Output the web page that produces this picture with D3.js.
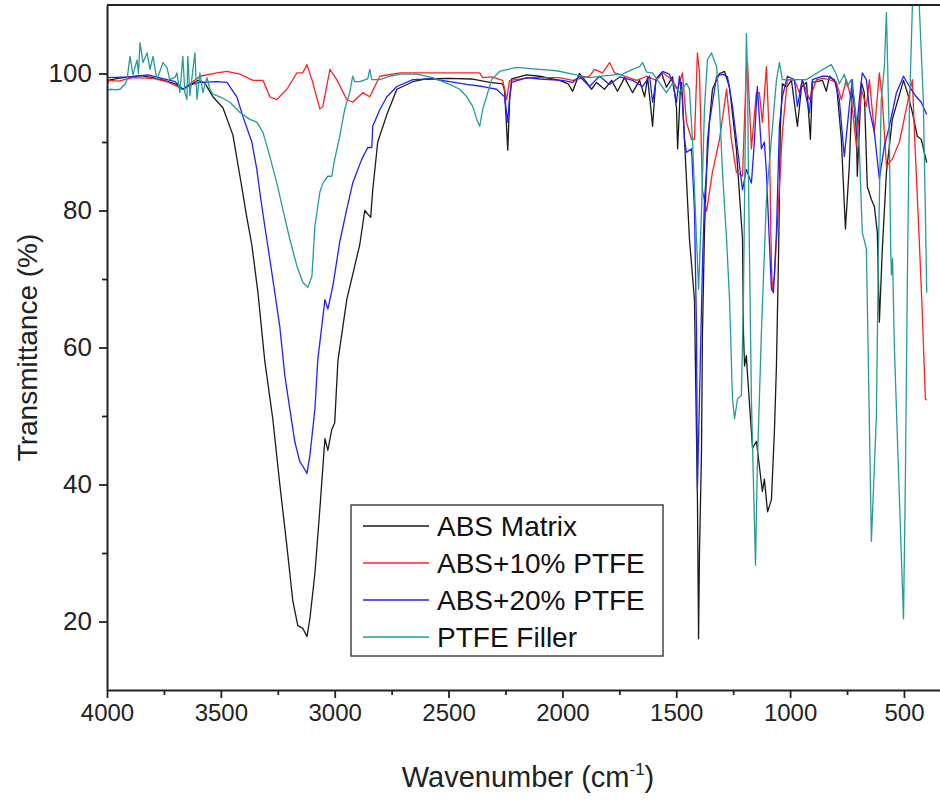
<!DOCTYPE html>
<html>
<head>
<meta charset="utf-8">
<script src="https://cdn.jsdelivr.net/npm/d3@7"></script>
<style>
  body { margin: 0; background: #fff; }
  svg { display: block; font-family: Arial, "Liberation Sans", sans-serif; }
</style>
</head>
<body>
<svg id="chart"></svg>
<script>
// [wavenumber (cm-1), transmittance (%)]
const absMatrix = [[4000,99.0],[3950,99.3],[3900,99.5],[3850,99.7],[3800,99.4],[3750,99.0],[3700,98.5],[3667,97.7],[3640,98.2],[3600,99.0],[3570,98.6],[3535,96.6],[3491,95.0],[3447,91.0],[3416,85.0],[3386,79.0],[3364,75.0],[3337,68.0],[3307,58.0],[3272,49.6],[3241,40.0],[3210,31.0],[3184,23.0],[3162,19.4],[3140,19.0],[3122,17.8],[3109,20.4],[3087,27.0],[3065,36.5],[3043,46.7],[3030,45.0],[3013,48],[3000,49],[2986,58],[2947,67],[2890,75],[2868,80],[2842,79],[2833,83],[2811,90],[2771,94],[2727,97.7],[2657,98.8],[2600,99.2],[2500,99.3],[2400,99.2],[2319,98.7],[2262,98.5],[2254,97.5],[2245,92],[2240,88.8],[2232,96],[2223,99.2],[2157,99.8],[2100,99.6],[2012,99.0],[1975,98.5],[1955,97.4],[1925,100.0],[1894,98.7],[1872,97.7],[1850,98.7],[1815,97.7],[1784,99.0],[1758,97.4],[1727,99.4],[1692,97.2],[1661,99.0],[1639,96.6],[1626,99.4],[1612,95],[1604,92.3],[1590,99],[1565,100.1],[1543,98],[1516,99.5],[1499,95],[1494,89],[1483,97],[1477,98.7],[1464,90.4],[1442,75.8],[1420,67],[1407,38],[1402,17.5],[1398,30],[1389,45],[1385,62],[1376,77],[1363,90],[1341,97.7],[1310,100],[1288,100.3],[1266,98],[1236,89],[1209,75.8],[1205,62.3],[1200,57.3],[1192,58.8],[1187,56],[1165,45.3],[1148,46.3],[1135,42.7],[1122,39],[1113,40.8],[1099,36],[1082,37.8],[1069,47.7],[1060,57.3],[1050,75],[1043,92],[1034,98.5],[1016,98],[994,99],[968,92.3],[950,98],[928,98.7],[911,90.4],[902,98.7],[858,99],[841,97.4],[827,99.6],[797,98.7],[775,90.4],[757,77.3],[740,86.5],[727,98],[709,92.3],[705,85],[687,98.7],[674,97.2],[661,83.5],[643,81.6],[630,80.6],[617,76.8],[608,63.7],[595,74.4],[577,85.6],[551,93.3],[502,99],[485,97.2],[463,94.3],[441,90.8],[424,90.4],[400,87.0]];

const abs10 = [[4000,98.4],[3990,99.0],[3950,98.9],[3886,99.4],[3800,99.3],[3737,98.8],[3667,97.7],[3592,99.6],[3517,100.1],[3473,100.3],[3416,99.9],[3359,99],[3315,99],[3285,96.6],[3254,96.2],[3210,97.7],[3166,100.1],[3140,100.1],[3122,101.3],[3100,99.1],[3065,94.8],[3052,95.2],[3021,100.6],[2991,99.1],[2947,96.2],[2921,95.8],[2877,97.2],[2846,96.6],[2802,99.6],[2714,100.1],[2570,100.1],[2420,100.1],[2363,100.1],[2350,99.4],[2311,99.5],[2262,99],[2245,96.2],[2232,99],[2131,99.4],[2012,99.4],[1955,99],[1881,99.6],[1859,100.6],[1824,100.1],[1793,101.6],[1771,100.1],[1727,99.6],[1674,99],[1630,99.6],[1587,99],[1560,100.1],[1516,99],[1494,97.7],[1473,100.1],[1455,92.9],[1433,90.4],[1420,90.4],[1407,103],[1398,100.1],[1385,83],[1367,79.9],[1341,85.6],[1310,90.4],[1279,97.7],[1258,90.4],[1236,85.6],[1209,85],[1192,101],[1187,101.6],[1170,89],[1148,97.2],[1135,97.2],[1122,92.9],[1104,101],[1091,90.4],[1082,71.9],[1078,68.5],[1069,70.4],[1056,78],[1050,81.6],[1034,91.4],[1012,99.1],[981,99],[959,97.2],[946,99.1],[915,96.2],[884,99.1],[858,99.3],[827,99.1],[797,98.7],[775,96.2],[753,99.1],[731,96.2],[709,89.4],[687,97.7],[665,95.2],[652,99.1],[630,91.4],[608,100.1],[595,96.2],[577,86.5],[551,87.5],[520,90],[490,94.8],[463,99.1],[454,91.4],[433,75.8],[419,64.7],[406,52.5],[400,52.3]];

const abs20 = [[4000,99.4],[3900,99.5],[3820,99.8],[3750,99.2],[3700,98.8],[3667,97.7],[3640,98.3],[3592,98.7],[3517,98.8],[3473,98.7],[3430,96.6],[3403,93.7],[3364,90],[3342,86],[3329,82.7],[3307,77.7],[3285,72.9],[3263,68],[3241,63],[3219,55.9],[3197,51],[3175,46.2],[3153,43.3],[3140,42.7],[3122,41.6],[3109,44.2],[3087,51],[3074,58.3],[3057,63],[3043,67],[3030,65.6],[3008,69],[2978,75.4],[2947,80.2],[2921,84],[2881,87.5],[2855,89.2],[2837,89.2],[2833,92.3],[2802,94.7],[2771,96.6],[2727,98.1],[2657,99.1],[2570,99.2],[2420,98.4],[2350,98.1],[2289,97.7],[2254,96.6],[2240,92.9],[2232,96.5],[2223,98.7],[2157,99.4],[2100,99.2],[2000,99],[1955,98.7],[1925,99.6],[1881,98.1],[1837,99.6],[1793,98.4],[1749,99.5],[1692,99],[1648,98.1],[1617,99.6],[1604,95.8],[1587,99.3],[1560,100.3],[1530,99.9],[1516,98.7],[1499,95.8],[1486,99.6],[1473,96.6],[1464,90.4],[1455,88.5],[1433,89],[1420,80],[1411,62.3],[1407,39.4],[1398,52.5],[1385,71.9],[1376,81.6],[1367,85.6],[1354,92.9],[1323,99.6],[1297,99.9],[1275,99.5],[1253,95.2],[1222,86.5],[1209,83],[1192,86],[1170,84],[1157,90],[1144,98.1],[1126,89],[1113,90],[1104,85.6],[1099,81.6],[1082,68.5],[1073,68],[1060,76.8],[1056,81.6],[1047,92.3],[1034,96.6],[1012,99.6],[981,99.1],[968,95.2],[946,99.1],[915,94.3],[902,99.1],[858,99.6],[836,99.6],[806,99.1],[784,96.2],[762,87.9],[740,95.2],[727,99.1],[709,91.4],[696,96.2],[683,100.1],[665,99.1],[652,94.8],[630,91.4],[608,84.6],[586,89.4],[564,92.3],[533,97.2],[502,99.6],[476,98.1],[446,96.6],[424,95.8],[400,94]];

const ptfeFiller = [[4000,97.4],[3987,97.7],[3960,97.6],[3943,97.7],[3920,98.5],[3912,99.1],[3899,102.5],[3886,99.8],[3868,102],[3862,100],[3855,104.5],[3842,101.6],[3824,103],[3811,100.6],[3798,102.5],[3781,99.1],[3754,101.6],[3737,100.9],[3724,99.1],[3700,99.5],[3693,100.1],[3680,97.2],[3667,102.5],[3658,97.2],[3649,96.2],[3645,102.5],[3636,96.8],[3614,103],[3605,96.2],[3592,100.1],[3579,97.2],[3561,99.4],[3548,97.7],[3535,97],[3504,96.6],[3460,95.8],[3416,94.3],[3373,93.3],[3342,92.9],[3315,91.4],[3285,87.9],[3254,84],[3228,80.2],[3197,75.8],[3166,71.9],[3140,69.5],[3118,68.8],[3100,70.4],[3087,77.7],[3065,82.7],[3052,84],[3030,85],[3013,85],[3000,87.5],[2978,90.8],[2956,94.8],[2934,97.2],[2921,99.6],[2912,98.8],[2890,98.8],[2855,99.2],[2846,100.6],[2837,99.1],[2802,99.1],[2758,99.6],[2714,99.9],[2640,99.9],[2570,99.4],[2495,98.4],[2451,97.7],[2420,96.6],[2394,95.2],[2376,93.3],[2363,92.3],[2350,94.8],[2333,96.6],[2311,99.1],[2276,100.3],[2201,100.9],[2100,100.6],[2025,100.4],[1955,99.9],[1881,99.4],[1806,99.7],[1736,99.9],[1692,100.6],[1661,101],[1648,101.6],[1630,100.2],[1604,100.1],[1573,98.6],[1543,97.2],[1516,98.6],[1486,97.2],[1455,98.6],[1442,97.7],[1429,90.4],[1411,75.8],[1402,68.5],[1389,80],[1376,95],[1363,102],[1345,103],[1323,101],[1310,95.2],[1297,85.6],[1279,75.8],[1266,67],[1253,52.5],[1244,49.6],[1231,52.5],[1214,53],[1205,67],[1200,81.6],[1194,100],[1192,105.8],[1187,100],[1183,85],[1170,52.5],[1152,28.2],[1144,42.7],[1126,62.3],[1104,81.6],[1091,87],[1078,92],[1060,99],[1047,101.6],[1034,99.1],[1003,99.1],[928,99.1],[871,100.3],[819,101.3],[797,99.9],[784,98.5],[762,99.9],[749,98.1],[731,99.1],[718,96.2],[696,89],[683,76.8],[665,74.4],[643,31.7],[621,50],[612,74.4],[600,96],[586,101],[577,108.9],[564,90],[558,74],[555,70.6],[550,73],[542,60],[520,38],[502,20.4],[494,40],[485,70],[476,95],[463,109.8],[450,114],[433,110],[415,96.2],[406,80],[400,68]];

const seriesNames = ["ABS Matrix", "ABS+10% PTFE", "ABS+20% PTFE", "PTFE Filler"];
const seriesColors = ["#1a1a1a", "#ff2020", "#2020ff", "#279a97"];
const seriesData = [absMatrix, abs10, abs20, ptfeFiller];

const xMajor = [4000, 3500, 3000, 2500, 2000, 1500, 1000, 500];
const xMinor = [3750, 3250, 2750, 2250, 1750, 1250, 750];
const yMajor = [20, 40, 60, 80, 100];
const yMinor = [30, 50, 70, 90];

const width = 940, height = 801;
const margin = { top: 5, right: 0, bottom: 111, left: 107 };

const svg = d3.select("#chart").attr("width", width).attr("height", height);

const x = d3.scaleLinear().domain([4000, 300]).range([margin.left, 949.5]);
const y = d3.scaleLinear().domain([10, 110]).range([height - margin.bottom, margin.top]);

svg.append("defs").append("clipPath").attr("id", "plot-clip")
  .append("rect")
  .attr("x", margin.left).attr("y", margin.top)
  .attr("width", width - margin.left).attr("height", height - margin.bottom - margin.top);

const line = d3.line().x(d => x(d[0])).y(d => y(d[1]));

const lines = svg.append("g").attr("clip-path", "url(#plot-clip)");
seriesData.forEach((data, i) => {
  lines.append("path")
    .datum(data)
    .attr("fill", "none")
    .attr("stroke", seriesColors[i])
    .attr("stroke-width", 1.3)
    .attr("stroke-linejoin", "round")
    .attr("d", line);
});

// top frame line
svg.append("line")
  .attr("x1", margin.left).attr("x2", width)
  .attr("y1", margin.top).attr("y2", margin.top)
  .attr("stroke", "#222").attr("stroke-width", 2);

function styleAxis(g, size) {
  g.select(".domain").attr("stroke", "#222").attr("stroke-width", 2);
  g.selectAll(".tick line").attr("stroke", "#222").attr("stroke-width", 1.8);
  g.selectAll("text").attr("fill", "#222").style("font-size", size + "px");
}

// x axis
svg.append("g")
  .attr("transform", `translate(0,${height - margin.bottom})`)
  .call(d3.axisBottom(x).tickValues(xMajor).tickFormat(d3.format("d")).tickSize(8).tickSizeOuter(0).tickPadding(6))
  .call(styleAxis, 24);
svg.append("g")
  .attr("transform", `translate(0,${height - margin.bottom})`)
  .call(d3.axisBottom(x).tickValues(xMinor).tickSize(5).tickFormat(""))
  .call(g => g.select(".domain").remove())
  .call(styleAxis, 24);

// y axis
svg.append("g")
  .attr("transform", `translate(${margin.left},0)`)
  .call(d3.axisLeft(y).tickValues(yMajor).tickFormat(d3.format("d")).tickSize(8).tickSizeOuter(0).tickPadding(7))
  .call(styleAxis, 26);
svg.append("g")
  .attr("transform", `translate(${margin.left},0)`)
  .call(d3.axisLeft(y).tickValues(yMinor).tickSize(5).tickFormat(""))
  .call(g => g.select(".domain").remove())
  .call(styleAxis, 26);

// axis titles
svg.append("text")
  .attr("transform", `translate(37,${(margin.top + height - margin.bottom) / 2}) rotate(-90)`)
  .attr("text-anchor", "middle")
  .style("font-size", "28px")
  .attr("fill", "#222")
  .text("Transmittance (%)");

const xt = svg.append("text")
  .attr("x", 528).attr("y", 787)
  .attr("text-anchor", "middle")
  .style("font-size", "29px")
  .attr("fill", "#222");
xt.append("tspan").text("Wavenumber (cm");
xt.append("tspan").attr("dy", -12).style("font-size", "17px").text("-1");
xt.append("tspan").attr("dy", 12).text(")");

// legend
const legend = svg.append("g").attr("transform", "translate(351,505)");
legend.append("rect")
  .attr("width", 312).attr("height", 151)
  .attr("fill", "#fff").attr("stroke", "#444").attr("stroke-width", 1.5);
seriesNames.forEach((name, i) => {
  const ly = 21 + i * 37;
  legend.append("line")
    .attr("x1", 12).attr("x2", 78).attr("y1", ly).attr("y2", ly)
    .attr("stroke", seriesColors[i]).attr("stroke-width", 1.5);
  legend.append("text")
    .attr("x", 86).attr("y", ly + 10)
    .style("font-size", "28px")
    .attr("fill", "#111")
    .text(name);
});
</script>
</body>
</html>
